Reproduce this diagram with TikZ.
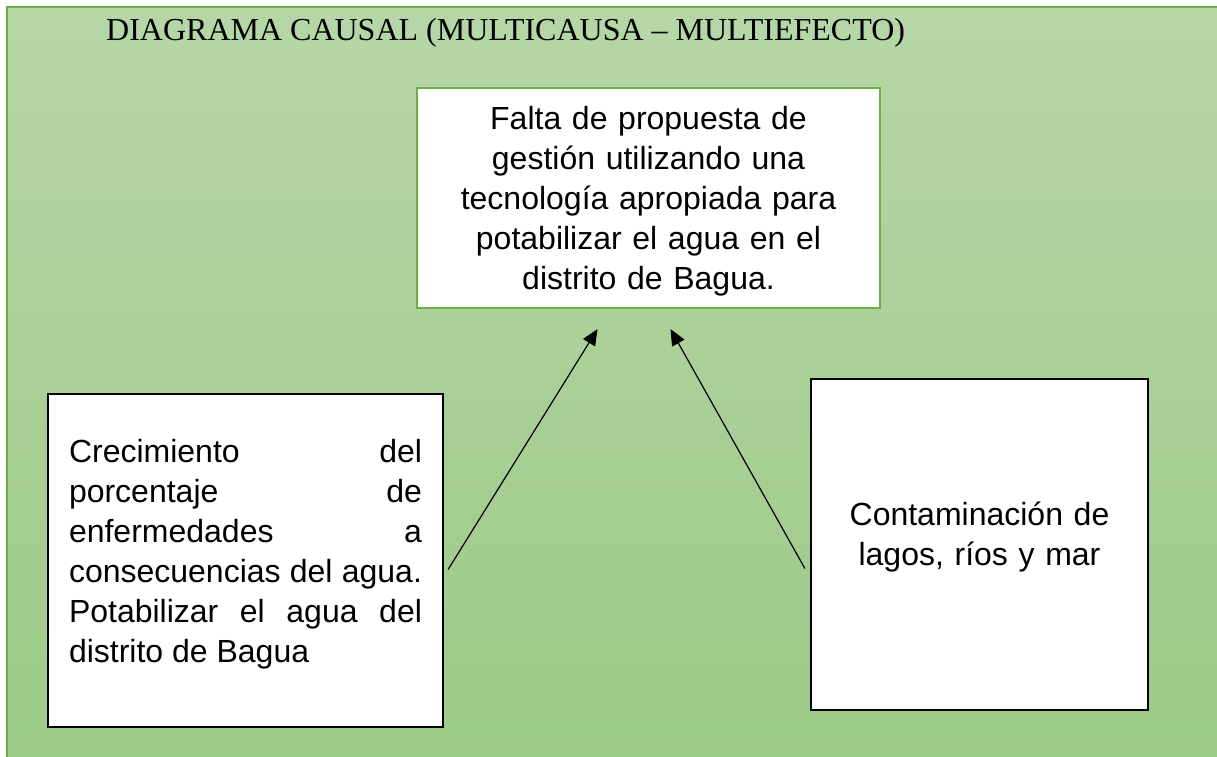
\documentclass[tikz,border=0pt]{standalone}
\usepackage{fontspec}
\setmainfont{Liberation Sans}
\newfontfamily\titulofont{Liberation Serif}
\usetikzlibrary{arrows.meta,calc}
\definecolor{fondoarriba}{RGB}{182,214,167}
\definecolor{fondoabajo}{RGB}{156,202,135}
\definecolor{bordeverde}{RGB}{112,173,71}
\newcommand\bajo[1]{\rule[-#1]{0pt}{#1}}
\begin{document}
\begin{tikzpicture}[x=1pt,y=-1pt]
            \tikzset{
                caja/.style={draw=black,fill=white,line width=2.2pt,inner sep=0pt,font=\fontsize{32}{40}\selectfont},
                flecha/.style={-{Triangle[length=16pt,width=14pt]},line width=1.2pt},}
            \useasboundingbox (0,0) rectangle (1217,756);
            \draw [bordeverde,line width=2.5pt,top color=fondoarriba,bottom color=fondoabajo] (7,7) rectangle (1224,763);
            \node [anchor=base west,inner sep=0pt,font=\titulofont\fontsize{32}{40}\selectfont] (titulo) at (106,40) {DIAGRAMA CAUSAL (MULTICAUSA – MULTIEFECTO)};
            \node [caja,draw=bordeverde,minimum width=463pt,minimum height=220pt,text width=440pt,align=center] (problema) at (648.5,198)
                {\rule{0pt}{30pt}Falta de propuesta de\\ gestión utilizando una\\ tecnología apropiada para\\ potabilizar el agua en el\\ distrito de Bagua.};
            \node [caja,minimum width=395pt,minimum height=333pt,text width=353pt,align=justify,
                execute at begin node={\tolerance=10000\hbadness=10000}] (causa) at (245.5,560.5)
                {Crecimiento del\linebreak porcentaje de\linebreak enfermedades a\linebreak consecuencias del agua.\linebreak Potabilizar el agua del\linebreak distrito de Bagua\bajo{20pt}};
            \node [caja,minimum width=337pt,minimum height=331pt,text width=300pt,align=center] (contaminacion) at (979.5,544.5)
                {Contaminación de\\ lagos, ríos y mar\bajo{22pt}};
            \draw [flecha] ($(causa.east)+(4,9)$) -- ($(problema.south)+(-51,20)$);
            \draw [flecha] ($(contaminacion.west)+(-5,24)$) -- ($(problema.south)+(22,20)$);
        \end{tikzpicture}
\end{document}
